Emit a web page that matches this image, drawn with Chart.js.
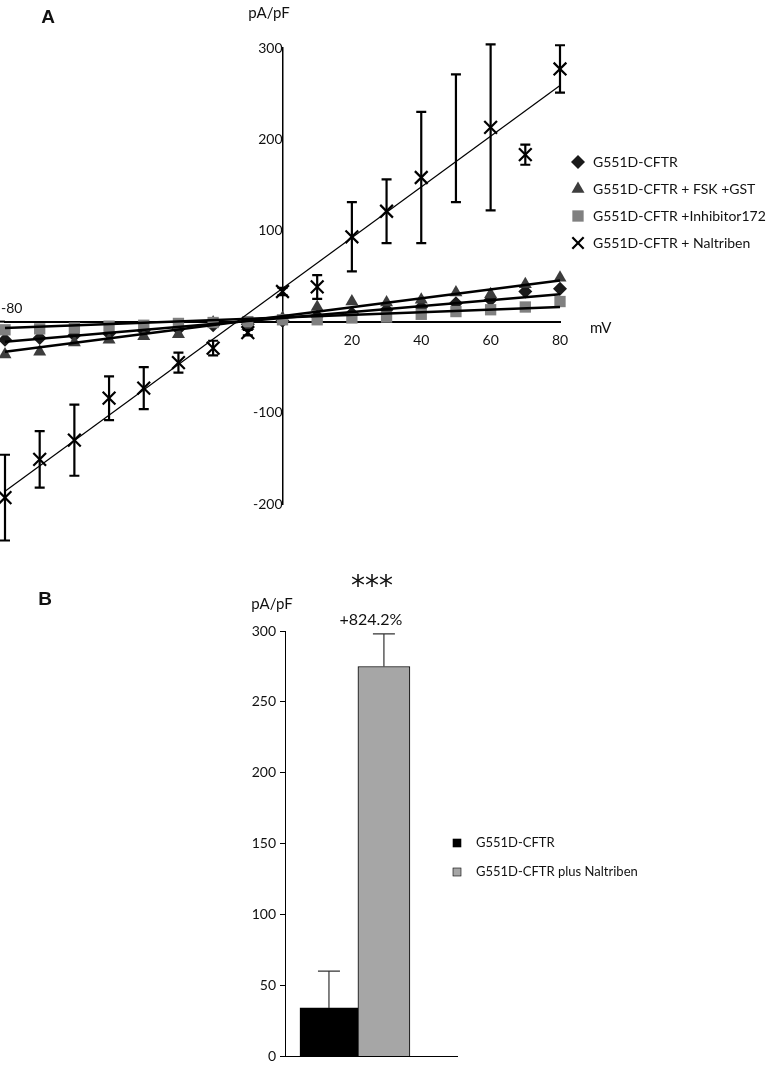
<!DOCTYPE html>
<html>
<head>
<meta charset="utf-8">
<script src="https://cdn.jsdelivr.net/npm/chart.js@4.4.1/dist/chart.umd.min.js"></script>
<style>
    html, body { margin: 0; padding: 0; background: #fff; }
    #wrapA { position: absolute; left: 0; top: 0; width: 767px; height: 560px; }
    #wrapB { position: absolute; left: 0; top: 560px; width: 767px; height: 509px; }
</style>
</head>
<body>
<div id="wrapA"><canvas id="ivChart"></canvas></div>
<div id="wrapB"><canvas id="barChart"></canvas></div>
<script>
// Panel A - courbes I/V
const voltages   = [-80, -70, -60, -50, -40, -30, -20, -10, 0, 10, 20, 30, 40, 50, 60, 70, 80];
const ctrlValues = [-20, -18, -15, -13, -10, -8, -4, -3, 1, 6, 9, 13, 16, 20, 24, 33, 36];
const fskValues  = [-36, -33, -23, -20, -16, -14, -1, -5, 4, 16, 22, 21, 24, 32, 30, 41, 48];
const inhValues  = [-9, -8, -7, -5, -4, -2, -1, 0, 2, 2, 4, 5, 8, 11, 13, 16, 22];
const nalValues  = [-193, -151, -130, -84, -73, -45, -29, -12, 33, 38, 93, 121, 158, 201, 213, 183, 277];
const nalErrors  = [47, 31, 39, 24, 23, 11, 8, 3, 4, 13, 38, 35, 72, 70, 91, 11, 26];
const nalNoMarker = [50];

// droites de régression (valeurs aux extrémités)
const fitRange = [-80, 80];
const ctrlFit  = [-22, 30];
const fskFit   = [-33, 45];
const inhFit   = [-7, 16];
const nalFit   = [-186, 259];

const yTicksA = [-200, -100, 100, 200, 300];
const xTicksA = [20, 40, 60, 80];

// Panel B - histogramme
const barLabels = ['G551D-CFTR', 'G551D-CFTR plus Naltriben'];
const barValues = [34.3, 275];
const barErrors = [26, 23];

const FONT = 'Lato, "Open Sans", sans-serif';
Chart.defaults.font.family = FONT;
Chart.defaults.color = '#111';

function toPoints(xs, ys) {
    return xs.map((x, i) => ({ x: x, y: ys[i] }));
}

// séries (le style reste ici, pas dans les tableaux de données)
const seriesA = [
    { label: 'G551D-CFTR', values: ctrlValues, fit: ctrlFit, style: 'rectRot', radius: 7, color: '#1a1a1a' },
    { label: 'G551D-CFTR + FSK +GST', values: fskValues, fit: fskFit, style: 'triangle', radius: 7.5, color: '#3d3d3d' },
    { label: 'G551D-CFTR +Inhibitor172', values: inhValues, fit: inhFit, style: 'rect', radius: 8, color: '#808080' }
];

function buildDatasetsA() {
    const ds = [];
    // droites épaisses au-dessus des marqueurs
    seriesA.forEach(s => {
        ds.push({
            type: 'line', data: toPoints(fitRange, s.fit), borderColor: '#000', borderWidth: 2.5,
            pointRadius: 0, fill: false, clip: false, order: 1
        });
    });
    ds.push({
        type: 'line', data: toPoints(fitRange, nalFit), borderColor: '#000', borderWidth: 1.2,
        pointRadius: 0, fill: false, clip: false, order: 2
    });
    ds.push({
        type: 'scatter', label: 'G551D-CFTR + Naltriben', data: toPoints(voltages, nalValues),
        pointStyle: 'crossRot', pointRadius: voltages.map(v => nalNoMarker.includes(v) ? 0 : 9),
        borderColor: '#000', borderWidth: 2.2, clip: false, order: 2
    });
    seriesA.slice().reverse().forEach((s, i) => {
        ds.push({
            type: 'scatter', label: s.label, data: toPoints(voltages, s.values),
            pointStyle: s.style, pointRadius: s.radius, backgroundColor: s.color, borderColor: s.color,
            borderWidth: 0, clip: false, order: 3 + i
        });
    });
    return ds;
}

const errorBarsA = {
    id: 'errorBarsA',
    afterDatasetsDraw(chart) {
        const ctx = chart.ctx;
        const xs = chart.scales.x, ys = chart.scales.y;
        ctx.save();
        ctx.strokeStyle = '#000';
        ctx.lineWidth = 2.2;
        voltages.forEach((v, i) => {
            const px = xs.getPixelForValue(v);
            const top = ys.getPixelForValue(nalValues[i] + nalErrors[i]);
            const bot = ys.getPixelForValue(nalValues[i] - nalErrors[i]);
            ctx.beginPath();
            ctx.moveTo(px, top); ctx.lineTo(px, bot);
            ctx.moveTo(px - 5, top); ctx.lineTo(px + 5, top);
            ctx.moveTo(px - 5, bot); ctx.lineTo(px + 5, bot);
            ctx.stroke();
        });
        ctx.restore();
    }
};

const decorA = {
    id: 'decorA',
    afterDraw(chart) {
        const ctx = chart.ctx;
        const xs = chart.scales.x, ys = chart.scales.y;
        ctx.save();
        ctx.fillStyle = '#111';
        ctx.font = 'bold 19px "Liberation Sans", Arial, sans-serif';
        ctx.textAlign = 'center';
        ctx.textBaseline = 'middle';
        ctx.fillText('A', 48, 18);

        ctx.font = '15px ' + FONT;
        ctx.fillText('pA/pF', 269, 13);
        ctx.textAlign = 'left';
        ctx.fillText('mV', 590, 328);
        ctx.font = '14px ' + FONT;
        ctx.fillText('-80', 1, ys.getPixelForValue(0) - 13);

        // prolonger l'axe des x jusqu'au bord
        ctx.strokeStyle = '#000';
        ctx.lineWidth = 2;
        ctx.beginPath();
        ctx.moveTo(0, ys.getPixelForValue(0));
        ctx.lineTo(xs.getPixelForValue(-80), ys.getPixelForValue(0));
        ctx.stroke();

        // légende
        const entries = [
            { text: 'G551D-CFTR', style: 'rectRot', radius: 7, color: '#1a1a1a', stroke: 0 },
            { text: 'G551D-CFTR + FSK +GST', style: 'triangle', radius: 7.5, color: '#3d3d3d', stroke: 0 },
            { text: 'G551D-CFTR +Inhibitor172', style: 'rect', radius: 8, color: '#808080', stroke: 0 },
            { text: 'G551D-CFTR + Naltriben', style: 'crossRot', radius: 8, color: '#000', stroke: 2.2 }
        ];
        entries.forEach((e, i) => {
            const y = 162 + i * 27;
            ctx.fillStyle = e.color;
            ctx.strokeStyle = e.color;
            ctx.lineWidth = e.stroke || 1;
            Chart.helpers.drawPoint(ctx, { pointStyle: e.style, radius: e.radius, rotation: 0, borderWidth: e.stroke }, 578, y);
            ctx.fillStyle = '#111';
            ctx.font = '14px ' + FONT;
            ctx.textAlign = 'left';
            ctx.fillText(e.text, 593, y);
        });
        ctx.restore();
    }
};

new Chart(document.getElementById('ivChart'), {
    type: 'scatter',
    data: { datasets: buildDatasetsA() },
    options: {
        responsive: true,
        maintainAspectRatio: false,
        animation: false,
        layout: { autoPadding: false, padding: { left: 5, right: 207, top: 48, bottom: 56 } },
        plugins: { legend: { display: false }, tooltip: { enabled: false } },
        scales: {
            x: {
                type: 'linear', min: -80, max: 80, position: { y: 0 },
                // pas de traits de graduation : tickLength sert seulement à décaler les libellés
                grid: { display: false, drawTicks: true, tickLength: 10 },
                border: { color: '#000', width: 2 },
                afterBuildTicks: s => { s.ticks = voltages.filter(v => v % 20 === 0).map(v => ({ value: v })); },
                ticks: {
                    padding: 0, font: { size: 14 }, maxRotation: 0, autoSkip: false,
                    callback: v => xTicksA.includes(v) ? String(v) : ''
                }
            },
            y: {
                type: 'linear', min: -200, max: 300, position: { x: 0 },
                grid: { display: false, drawTicks: false },
                border: { color: '#000', width: 1.5 },
                ticks: {
                    stepSize: 100, padding: 12, font: { size: 14 },
                    callback: v => yTicksA.includes(v) ? String(v) : ''
                }
            }
        }
    },
    plugins: [errorBarsA, decorA]
});

// Panel B
const barColors = ['#000000', '#a6a6a6'];
const barWidths = [58, 52];

const errorBarsB = {
    id: 'errorBarsB',
    afterDatasetsDraw(chart) {
        const ctx = chart.ctx;
        const xs = chart.scales.x, ys = chart.scales.y;
        ctx.save();
        ctx.strokeStyle = '#333';
        ctx.lineWidth = 1.2;
        barValues.forEach((v, i) => {
            const px = xs.getPixelForValue(i + 1);
            const top = ys.getPixelForValue(v + barErrors[i]);
            const base = ys.getPixelForValue(v);
            ctx.beginPath();
            ctx.moveTo(px, base); ctx.lineTo(px, top);
            ctx.moveTo(px - 11, top); ctx.lineTo(px + 11, top);
            ctx.stroke();
        });
        ctx.restore();
    }
};

const decorB = {
    id: 'decorB',
    afterDraw(chart) {
        const ctx = chart.ctx;
        const xs = chart.scales.x, ys = chart.scales.y;
        ctx.save();
        ctx.fillStyle = '#111';
        ctx.textAlign = 'center';
        ctx.textBaseline = 'middle';
        ctx.font = 'bold 19px "Liberation Sans", Arial, sans-serif';
        ctx.fillText('B', 45, 40);

        ctx.font = '15px ' + FONT;
        ctx.fillText('pA/pF', 272, 44);

        const cx = xs.getPixelForValue(2);
        ctx.font = '16px ' + FONT;
        ctx.fillText('+824.2%', cx - 13, ys.getPixelForValue(barValues[1] + barErrors[1]) - 14);
        ctx.font = '28px "DejaVu Sans", sans-serif';
        ctx.fillText('***', cx - 12, 28);

        // légende
        ctx.textAlign = 'left';
        ctx.font = '13px ' + FONT;
        barLabels.forEach((lab, i) => {
            const y = 283 + i * 29;
            ctx.fillStyle = barColors[i];
            ctx.fillRect(453, y - 4, 8, 8);
            ctx.strokeStyle = '#000';
            ctx.lineWidth = 0.6;
            ctx.strokeRect(453, y - 4, 8, 8);
            ctx.fillStyle = '#111';
            ctx.fillText(lab, 476, y);
        });
        ctx.restore();
    }
};

new Chart(document.getElementById('barChart'), {
    type: 'bar',
    data: {
        datasets: barLabels.map((lab, i) => ({
            label: lab,
            data: [{ x: i + 1, y: barValues[i] }],
            backgroundColor: barColors[i],
            borderColor: '#000',
            borderWidth: 1,
            barThickness: barWidths[i]
        }))
    },
    options: {
        responsive: true,
        maintainAspectRatio: false,
        animation: false,
        layout: { padding: { left: 240, right: 310, top: 71, bottom: 10 } },
        plugins: { legend: { display: false }, tooltip: { enabled: false } },
        scales: {
            x: {
                type: 'linear', min: 0.2, max: 3.33, stacked: true, offset: false,
                ticks: { display: false },
                grid: { display: false, drawTicks: false },
                border: { color: '#000', width: 1 }
            },
            y: {
                min: 0, max: 300,
                afterFit: s => { s.width = 45; },
                ticks: { stepSize: 50, padding: 4, font: { size: 14 } },
                grid: { display: true, drawOnChartArea: false, drawTicks: true, tickLength: 5, color: '#000' },
                border: { color: '#000', width: 1 }
            }
        }
    },
    plugins: [errorBarsB, decorB]
});
</script>
</body>
</html>
